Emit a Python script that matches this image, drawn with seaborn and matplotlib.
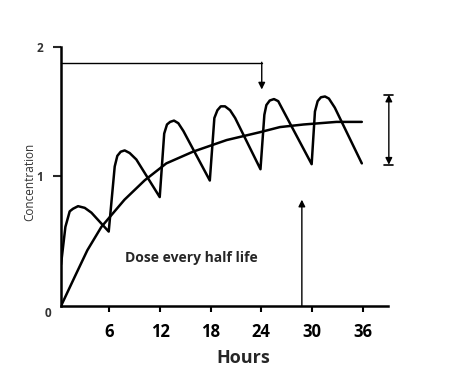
import matplotlib
matplotlib.use("Agg")
import matplotlib.pyplot as plt
import seaborn as sns
import pandas as pd

# ---- data ----
saw_t = [0.28, 0.8, 1.31, 1.70, 2.30, 3.09, 3.88, 5.93,
         6.64, 6.95, 7.35, 7.82, 8.41, 9.2, 11.97,
         12.5, 12.83, 13.2, 13.66, 14.17, 14.77, 17.9,
         18.44, 18.8, 19.2, 19.7, 20.3, 20.9, 23.9,
         24.36, 24.6, 25.0, 25.5, 26.0, 26.6, 29.96,
         30.35, 30.67, 31.06, 31.54, 32.0, 32.7, 35.9]
saw_c = [0.32, 0.61, 0.73, 0.75, 0.77, 0.757, 0.72, 0.574,
         1.076, 1.158, 1.19, 1.20, 1.18, 1.13, 0.84,
         1.33, 1.40, 1.42, 1.43, 1.41, 1.35, 0.968,
         1.45, 1.51, 1.54, 1.54, 1.51, 1.45, 1.055,
         1.475, 1.55, 1.585, 1.596, 1.58, 1.506, 1.094,
         1.50, 1.58, 1.61, 1.616, 1.60, 1.53, 1.10]

smooth_t = [0.28, 1.94, 3.4, 5.06, 7.8, 10.2, 12.75, 15.9, 19.9,
            23.8, 26.2, 29.0, 32.9, 35.9]
smooth_c = [0.0, 0.23, 0.43, 0.61, 0.82, 0.97, 1.10, 1.19, 1.28,
            1.34, 1.38, 1.40, 1.42, 1.42]

x_ticks = [6, 12, 18, 24, 30, 36]
x_tick_labels = ["6", "12", "18", "24", "30", "36"]
y_ticks = [1, 2]
y_tick_labels = ["1", "2"]

label_text = "Dose every half life"
x_title = "Hours"
y_title = "Concentration"

sns.set_style("white")
plt.rcParams['font.family'] = ['Open Sans', 'DejaVu Sans']

fig = plt.figure(figsize=(4.61, 3.84), dpi=100)
ax = fig.add_axes([61/461, 78/384, 327/461, 259.3/384])

saw_df = pd.DataFrame({"t": saw_t, "c": saw_c})
smooth_df = pd.DataFrame({"t": smooth_t, "c": smooth_c})
sns.lineplot(data=saw_df, x="t", y="c", ax=ax, color="black", lw=1.8,
             sort=False, estimator=None, solid_joinstyle="round")
sns.lineplot(data=smooth_df, x="t", y="c", ax=ax, color="black", lw=1.8,
             sort=False, estimator=None, solid_joinstyle="round")

ax.set_xlim(0.28, 39.0)
ax.set_ylim(0, 2)

for s in ["top", "right"]:
    ax.spines[s].set_visible(False)
for s in ["left", "bottom"]:
    ax.spines[s].set_linewidth(1.8)
    ax.spines[s].set_color("black")

ax.set_xticks(x_ticks)
ax.set_xticklabels(x_tick_labels, fontsize=12, fontweight="bold")
ax.tick_params(axis="x", direction="out", length=4, width=1.5, pad=8,
               colors="black", bottom=True)
ax.set_yticks(y_ticks)
ax.set_yticklabels(y_tick_labels, fontsize=8.5, fontweight="bold", color="#333333")
ax.tick_params(axis="y", direction="out", length=6, width=1.5, pad=7, left=True)
ax.text(-0.039, -0.027, "0", transform=ax.transAxes, fontsize=8.5,
        fontweight="bold", color="#333333", ha="center", va="center")

ax.set_xlabel(x_title, fontsize=13, fontweight="bold")
ax.xaxis.set_label_coords(0.556, -0.199)
ax.xaxis.label.set_va("center")
ax.set_ylabel(y_title, fontsize=8.5, color="#333333")
ax.yaxis.set_label_coords(-0.095, 0.479)
ax.yaxis.label.set_va("center")

# annotation text
ax.text(7.9, 0.37, label_text, fontsize=10, fontweight="bold",
        ha="left", va="center")

# top bent arrow
ax.plot([0.28, 24.05], [1.875, 1.875], color="black", lw=1.0, clip_on=False)
ax.annotate("", xy=(24.05, 1.67), xytext=(24.05, 1.88),
            arrowprops=dict(arrowstyle="-|>", color="black", lw=1.0,
                            mutation_scale=10, shrinkA=0, shrinkB=0))

# vertical up arrow
ax.annotate("", xy=(28.8, 0.82), xytext=(28.8, 0.0),
            arrowprops=dict(arrowstyle="-|>", color="black", lw=1.0,
                            mutation_scale=10, shrinkA=0, shrinkB=0))

# double arrow with caps at right
ax.annotate("", xy=(39.1, 1.63), xytext=(39.1, 1.09),
            arrowprops=dict(arrowstyle="<|-|>", color="black", lw=1.0,
                            mutation_scale=10, shrinkA=0, shrinkB=0),
            annotation_clip=False)
for yv in (1.63, 1.09):
    ax.plot([38.55, 39.65], [yv, yv], color="black", lw=1.2, clip_on=False)

fig.savefig("out.png", dpi=100, facecolor="white")
